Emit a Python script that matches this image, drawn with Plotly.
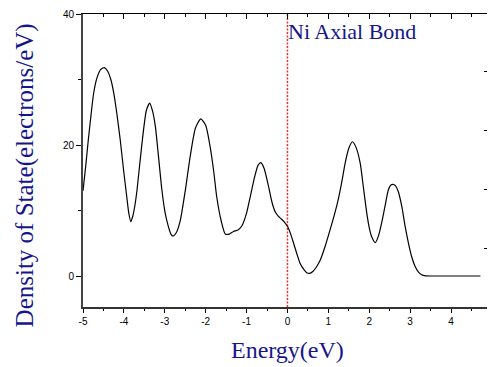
import plotly.graph_objects as go

energy = [-5.00, -4.93, -4.87, -4.80, -4.74, -4.66, -4.57, -4.48, -4.40, -4.32, -4.25, -4.17, -4.09, -4.01,
          -3.93, -3.88, -3.83, -3.78, -3.73, -3.68, -3.60, -3.52, -3.45, -3.37, -3.30, -3.23, -3.15, -3.07,
          -2.99, -2.91, -2.85, -2.80, -2.72, -2.62, -2.50, -2.38, -2.25, -2.12, -2.00, -1.89, -1.80, -1.73,
          -1.62, -1.52, -1.42, -1.32, -1.22, -1.12, -1.00, -0.91, -0.80, -0.72, -0.65, -0.57, -0.46, -0.38,
          -0.30, -0.22, -0.15, -0.07, 0.00, 0.08, 0.15, 0.23, 0.31, 0.40, 0.47, 0.54, 0.62, 0.70, 0.80,
          0.92, 1.04, 1.15, 1.25, 1.33, 1.41, 1.50, 1.59, 1.68, 1.78, 1.86, 1.94, 2.00, 2.06, 2.15, 2.23,
          2.31, 2.39, 2.47, 2.53, 2.58, 2.64, 2.71, 2.80, 2.88, 2.96, 3.04, 3.12, 3.20, 3.28, 3.38, 3.50, 4.72]
dos = [13.0, 17.0, 20.8, 24.8, 27.9, 30.2, 31.5, 31.8, 31.3, 30.0, 28.0, 24.7, 20.8, 16.3,
       12.1, 9.6, 8.3, 9.2, 10.8, 13.1, 17.8, 22.3, 25.3, 26.4, 25.2, 22.8, 18.0, 13.1,
       9.6, 7.5, 6.4, 6.1, 6.6, 8.5, 13.0, 18.2, 22.6, 24.0, 23.0, 19.7, 15.8, 12.1,
       8.4, 6.4, 6.4, 6.8, 7.0, 7.6, 9.6, 12.1, 15.2, 16.9, 17.3, 16.4, 13.6, 11.3,
       9.8, 9.1, 8.7, 8.2, 7.6, 6.4, 5.0, 3.4, 1.9, 1.0, 0.5, 0.4, 0.7, 1.3, 2.4,
       4.5, 7.0, 9.4, 11.9, 14.4, 17.2, 19.5, 20.5, 19.6, 17.2, 13.4, 9.6, 7.4, 6.0, 5.1, 6.2,
       8.3, 10.8, 13.2, 13.9, 14.0, 13.8, 12.9, 10.5, 7.5, 5.0, 2.9, 1.5, 0.65, 0.2, 0.03, 0.0, 0.0]

x_ticks = [-5, -4, -3, -2, -1, 0, 1, 2, 3, 4]
y_ticks = [0, 20, 40]
fermi = 0

navy = "#16168a"
serif = "Liberation Serif, Times New Roman, serif"
sans = "Liberation Sans, Arial, sans-serif"

fig = go.Figure()
fig.add_trace(go.Scatter(x=[fermi, fermi], y=[-4.73, 40], mode="lines",
                         line=dict(color="rgb(255,40,40)", width=1.5, dash="2px,1.5px"),
                         showlegend=False, hoverinfo="skip"))
fig.add_trace(go.Scatter(x=energy, y=dos, mode="lines",
                         line=dict(color="black", width=1.2, shape="spline", smoothing=0.6),
                         showlegend=False, hoverinfo="skip"))
# top axis carrier
fig.add_trace(go.Scatter(x=[fermi], y=[0], xaxis="x2", yaxis="y2", mode="markers",
                         marker=dict(opacity=0), showlegend=False, hoverinfo="skip"))

fig.update_layout(
    width=488, height=367,
    margin=dict(l=83, r=1, t=14, b=60),
    paper_bgcolor="white", plot_bgcolor="white",
    xaxis=dict(range=[-5, 4.88], tickvals=x_ticks, ticktext=[str(v) for v in x_ticks],
               ticks="outside", ticklen=4, tickwidth=1, tickcolor="black",
               minor=dict(dtick=0.5, tick0=-5, ticks="outside", ticklen=2, tickcolor="black"),
               showline=True, linecolor="#333", linewidth=1.5, showgrid=False, zeroline=False,
               tickfont=dict(family=sans, size=10, color="black")),
    yaxis=dict(range=[-4.73, 40], tickvals=y_ticks, ticks="outside", ticklen=5, tickwidth=1,
               tickcolor="black",
               minor=dict(tickvals=[10, 30], ticks="outside", ticklen=3, tickcolor="black"),
               showline=True, linecolor="#444", linewidth=1.8, showgrid=False, zeroline=False,
               tickfont=dict(family=sans, size=10, color="black")),
    xaxis2=dict(range=[-5, 4.88], overlaying="x", side="top", anchor="y",
                tickvals=x_ticks, ticks="inside", ticklen=5, tickcolor="black",
                minor=dict(dtick=0.5, tick0=-5, ticks="inside", ticklen=3, tickcolor="black"),
                showticklabels=False, showline=True, linecolor="black", linewidth=1.2,
                showgrid=False, zeroline=False),
    yaxis2=dict(range=[0, 4.97], overlaying="y", side="right", anchor="x",
                tickvals=[1, 2, 3, 4], ticks="inside", ticklen=3, tickcolor="black",
                showticklabels=False, showline=False, showgrid=False, zeroline=False),
    annotations=[
        dict(text="Density of State(electrons/eV)", textangle=-90, xref="paper", yref="paper",
             x=-0.1436, y=0.449, xanchor="center", yanchor="middle", showarrow=False,
             font=dict(family=serif, size=25, color=navy)),
        dict(text="Energy(eV)", xref="paper", yref="paper", x=0.506, y=-0.147,
             xanchor="center", yanchor="middle", showarrow=False,
             font=dict(family=serif, size=24, color=navy)),
        dict(text="Ni Axial Bond", xref="paper", yref="paper", x=0.5025, y=0.9386,
             xanchor="left", yanchor="middle", showarrow=False,
             font=dict(family=serif, size=22, color=navy)),
    ],
)

fig.write_html("out.html")
